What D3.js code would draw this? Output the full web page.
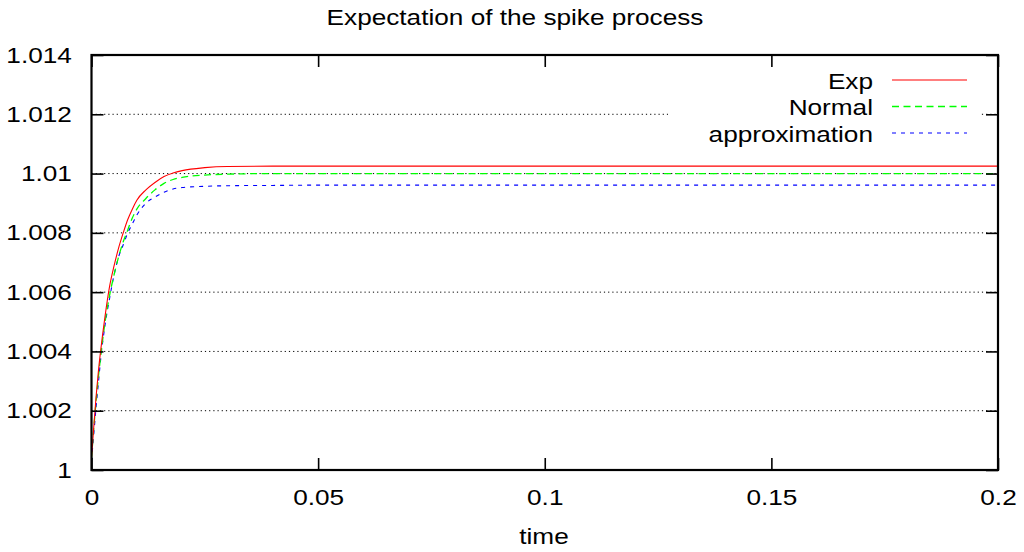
<!DOCTYPE html>
<html>
<head>
<meta charset="utf-8">
<script src="https://cdn.jsdelivr.net/npm/d3@7"></script>
<style>
  body { margin: 0; background: #fff; }
  svg { display: block; }
  text { font-family: "Liberation Sans", Arial, Helvetica, sans-serif; fill: #000; }
</style>
</head>
<body>
<svg id="chart" width="1024" height="552"></svg>
<script>
// Sample times (s)
const time = [0, 0.0005, 0.001, 0.0015, 0.002, 0.003, 0.004, 0.005, 0.006, 0.007,
              0.008, 0.009, 0.010, 0.012, 0.014, 0.016, 0.018, 0.020, 0.025, 0.030,
              0.040, 0.050, 0.075, 0.100, 0.150, 0.200];

// Expectation of the spike process for each model
const expValues    = [1.0004, 1.00145, 1.00245, 1.0033, 1.0040, 1.0052, 1.0062, 1.0069, 1.0075, 1.0080,
                      1.00845, 1.0088, 1.0091, 1.00945, 1.0097, 1.0099, 1.01002, 1.0101, 1.0102, 1.01024,
                      1.01025, 1.01025, 1.01025, 1.01025, 1.01025, 1.01025];
const normalValues = [1.0004, 1.0014, 1.0023, 1.0031, 1.0038, 1.0050, 1.0059, 1.0066, 1.0072, 1.0077,
                      1.0081, 1.0085, 1.0088, 1.00916, 1.00945, 1.00967, 1.0098, 1.00987, 1.00995, 1.00998,
                      1.0100, 1.0100, 1.0100, 1.0100, 1.0100, 1.0100];
const approxValues = [1.0003, 1.0012, 1.0021, 1.0029, 1.0037, 1.0049, 1.0058, 1.0066, 1.0072, 1.0076,
                      1.0080, 1.0083, 1.0086, 1.0090, 1.00921, 1.00937, 1.00948, 1.00953, 1.00957, 1.00959,
                      1.0096, 1.00961, 1.00961, 1.00961, 1.00961, 1.00961];

const seriesNames  = ["Exp", "Normal", "approximation"];
const seriesColors = ["#ff0000", "#00ff00", "#0000ff"];

const xTicks      = [0, 0.05, 0.1, 0.15, 0.2];
const xTickLabels = ["0", "0.05", "0.1", "0.15", "0.2"];
const yTicks      = [1, 1.002, 1.004, 1.006, 1.008, 1.01, 1.012, 1.014];
const yTickLabels = ["1", "1.002", "1.004", "1.006", "1.008", "1.01", "1.012", "1.014"];

const titleText  = "Expectation of the spike process";
const xAxisTitle = "time";

// ---- layout ----
const svg = d3.select("#chart");
const plotLeft = 91.5, plotRight = 998, plotTop = 55, plotBottom = 470;
const fontSize = 22;
const sx = 1.19;          // horizontal stretch of the lettering

const x = d3.scaleLinear().domain([0, 0.2]).range([plotLeft, plotRight]);
const y = d3.scaleLinear().domain([1, 1.014]).range([plotBottom, plotTop]);

// horizontal dotted grid
const gridVals = yTicks.filter(v => v > 1 && v < 1.014);
svg.append("g").selectAll("line").data(gridVals).join("line")
  .attr("x1", plotLeft).attr("x2", plotRight)
  .attr("y1", d => y(d)).attr("y2", d => y(d))
  .attr("stroke", "#000").attr("stroke-width", 1)
  .attr("stroke-dasharray", "1.2,3");

// key background
const keyBox = { x0: 668, x1: 981, y0: 67, y1: 146 };
svg.append("rect")
  .attr("x", keyBox.x0).attr("y", keyBox.y0)
  .attr("width", keyBox.x1 - keyBox.x0).attr("height", keyBox.y1 - keyBox.y0)
  .attr("fill", "#fff");

// curves
svg.append("clipPath").attr("id", "plotClip")
  .append("rect").attr("x", plotLeft).attr("y", plotTop)
  .attr("width", plotRight - plotLeft).attr("height", plotBottom - plotTop);

const series = [
  { name: seriesNames[0], values: expValues,    color: seriesColors[0], dash: null,    width: 1.1 },
  { name: seriesNames[1], values: normalValues, color: seriesColors[1], dash: "7,4.5", width: 1.3 },
  { name: seriesNames[2], values: approxValues, color: seriesColors[2], dash: "4,5",   width: 1.1 }
];

const line = d3.line()
  .x((d, i) => x(time[i]))
  .y(d => y(d))
  .curve(d3.curveMonotoneX);

const curves = svg.append("g").attr("clip-path", "url(#plotClip)");
// approximation first so Exp sits on top
[series[2], series[1], series[0]].forEach(s => {
  curves.append("path")
    .attr("d", line(s.values))
    .attr("fill", "none")
    .attr("stroke", s.color)
    .attr("stroke-width", s.width)
    .attr("stroke-dasharray", s.dash);
});

// axes with inward ticks, mirrored on top and right
const tickLen = 12;
function styleAxis(g) {
  g.select(".domain").remove();
  g.selectAll(".tick line").attr("stroke", "#000").attr("stroke-width", 1.6);
  g.selectAll(".tick text")
    .attr("font-size", fontSize)
    .attr("font-family", '"Liberation Sans", Arial, sans-serif')
    .attr("fill", "#000")
    .attr("transform", `scale(${sx},1)`);
}

svg.append("g")
  .attr("transform", `translate(0,${plotBottom})`)
  .call(d3.axisBottom(x).tickValues(xTicks)
        .tickFormat((d, i) => xTickLabels[i])
        .tickSize(-tickLen).tickPadding(19.5))
  .call(styleAxis);

svg.append("g")
  .attr("transform", `translate(0,${plotTop})`)
  .call(d3.axisTop(x).tickValues(xTicks).tickFormat(() => "")
        .tickSize(-tickLen))
  .call(styleAxis);

svg.append("g")
  .attr("transform", `translate(${plotLeft},0)`)
  .call(d3.axisLeft(y).tickValues(yTicks)
        .tickFormat((d, i) => yTickLabels[i])
        .tickSize(-tickLen).tickPadding(16.5))
  .call(styleAxis);

svg.append("g")
  .attr("transform", `translate(${plotRight},0)`)
  .call(d3.axisRight(y).tickValues(yTicks).tickFormat(() => "")
        .tickSize(-tickLen))
  .call(styleAxis);

// border
svg.append("rect")
  .attr("x", plotLeft).attr("y", plotTop)
  .attr("width", plotRight - plotLeft).attr("height", plotBottom - plotTop)
  .attr("fill", "none").attr("stroke", "#000").attr("stroke-width", 2.2);

// key
const keyTextRight = 873, keySample = [892, 967], keyRows = [80, 106.5, 133];
series.forEach((s, i) => {
  svg.append("text")
    .attr("transform", `translate(${keyTextRight},${keyRows[i]}) scale(${sx},1)`)
    .attr("text-anchor", "end")
    .attr("dy", 8.5)
    .attr("font-size", fontSize)
    .text(s.name);
  svg.append("line")
    .attr("x1", keySample[0]).attr("x2", keySample[1])
    .attr("y1", keyRows[i]).attr("y2", keyRows[i])
    .attr("stroke", s.color).attr("stroke-width", s.width)
    .attr("stroke-dasharray", s.dash);
});

// titles
svg.append("text")
  .attr("transform", `translate(515,25) scale(${sx},1)`)
  .attr("text-anchor", "middle")
  .attr("font-size", fontSize)
  .text(titleText);

svg.append("text")
  .attr("transform", `translate(544,544) scale(${sx},1)`)
  .attr("text-anchor", "middle")
  .attr("font-size", fontSize)
  .text(xAxisTitle);
</script>
</body>
</html>
